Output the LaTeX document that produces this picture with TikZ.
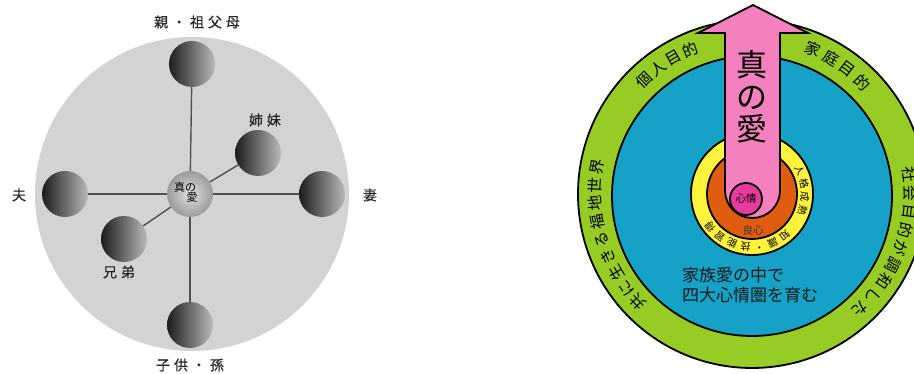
\documentclass[tikz,border=0pt]{standalone}
\usepackage{fontspec}
\setmainfont{Noto Sans CJK JP}
\newfontfamily\jpsp[LetterSpace=28,FakeBold=0.6]{Noto Sans CJK JP}
\usetikzlibrary{calc}
\definecolor{lgray}{RGB}{211,211,211}
\definecolor{linkc}{RGB}{80,80,80}
\definecolor{ballL}{RGB}{28,28,28}
\definecolor{ballR}{RGB}{185,185,185}
\definecolor{ggreen}{RGB}{150,204,36}
\definecolor{bblue}{RGB}{22,162,198}
\definecolor{yyellow}{RGB}{255,243,60}
\definecolor{oorange}{RGB}{224,92,16}
\definecolor{ppink}{RGB}{244,128,190}
\definecolor{mmag}{RGB}{232,58,156}
\tikzset{
  ballnode/.style={circle, minimum size=46, inner sep=0, left color=ballL, right color=ballR},
  ctrball/.style={circle, minimum size=46, inner sep=0, inner color=gray!25, outer color=gray!78},
  link/.style={draw=linkc, line width=1.4},
  lbl/.style={font=\jpsp\fontsize{14}{14}\selectfont, text=black!85, inner sep=1},
  ring/.style={draw=black, line width=1.8},
  gtxt/.style={font=\fontsize{15.5}{15.5}\selectfont, inner sep=0},
  ytxt/.style={font=\fontsize{10}{10}\selectfont, inner sep=0},
}
\begin{document}
\begin{tikzpicture}[x=1pt,y=1pt]
\useasboundingbox (0,0) rectangle (914,374);
\clip (0,0) rectangle (914,374);
% ---------------- left diagram ----------------
\fill[lgray] (192,180) circle (157);
\node[ballnode] (top) at (192,310) {};
\node[ballnode] (bot) at (190,49) {};
\node[ballnode] (hus) at (65,180) {};
\node[ballnode] (wif) at (322,180) {};
\node[ballnode] (sis) at (258,221) {};
\node[ballnode] (bro) at (124,135) {};
\node[ctrball] (ctr) at (190,180) {};
\draw[link] (top) -- (ctr);
\draw[link] (ctr) -- (bot);
\draw[link] (hus) -- (ctr);
\draw[link] (ctr) -- (wif);
\draw[link] (ctr) -- (sis);
\draw[link] (ctr) -- (bro);
\node[font=\fontsize{11}{11}\selectfont, inner sep=0] (ct1) at (185,186.5) {真の};
\node[font=\fontsize{11}{11}\selectfont, inner sep=0] (ct2) at (192,177) {愛};
\node[lbl] (l1) at (197,352) {親・祖父母};
\node[lbl] (l2) at (190,9) {子供・孫};
\node[lbl] (l3) at (19,179) {夫};
\node[lbl] (l4) at (370,179) {妻};
\node[lbl] (l5) at (265,254) {姉妹};
\node[lbl] (l6) at (119,102) {兄弟};
% ---------------- right diagram ----------------
\coordinate (R) at (752,180);
\filldraw[ring, fill=ggreen] (R) circle (174);
\filldraw[ring, fill=bblue] (752,178) circle (140);
\filldraw[ring, fill=yyellow] (R) circle (61);
\filldraw[ring, fill=oorange] (R) circle (45);
% arrow
\filldraw[ring, fill=ppink, line join=miter]
  (753,369) -- (808,341) -- (780,341) -- (780,183.5)
  arc[start angle=0, end angle=-180, radius=27.5]
  -- (725,341) -- (698,341) -- cycle;
\filldraw[ring, fill=mmag] (746,175) circle (16);
\node[font=\fontsize{10.5}{10.5}\selectfont, inner sep=0] (sj) at (746,175) {心情};
\node[font=\fontsize{10.5}{10.5}\selectfont, inner sep=0, text=black!80] (rs) at (753,143) {良心};
\node[font=\fontsize{31}{32}\selectfont, align=center, inner sep=0] (shin) at (752,277) {真\\の\\愛};
\node[font=\fontsize{17}{20.5}\selectfont, align=left, anchor=west, inner sep=0, text=black!90] (fam) at (682,89) {家族愛の中で\\四大心情圏を育む};
\begin{scope}[shift={(R)}]
  \foreach \c [count=\i from 0] in {個,人,目,的} {
    \pgfmathsetmacro\ang{133.4-6.8*\i}
    \node[gtxt, rotate=\ang-90] (ko\i) at (\ang:157) {\c};
  }
  \foreach \c [count=\i from 0] in {家,庭,目,的} {
    \pgfmathsetmacro\ang{67-7.2*\i}
    \node[gtxt, rotate=\ang-90] (ka\i) at (\ang:157) {\c};
  }
  \foreach \c [count=\i from 0] in {社,会,目,的,が,調,和,し,た} {
    \pgfmathsetmacro\ang{7-6.75*\i}
    \node[gtxt, rotate=\ang-90] (sh\i) at (\ang:158) {\c};
  }
  \foreach \c [count=\i from 0] in {共,に,生,き,る,福,地,世,界} {
    \pgfmathsetmacro\ang{223.6-6.7*\i}
    \node[gtxt, rotate=\ang-90] (to\i) at (\ang:157) {\c};
  }
  \foreach \c [count=\i from 0] in {人,格,成,熟} {
    \pgfmathsetmacro\ang{26-14.7*\i}
    \node[ytxt, rotate=\ang-90] (ji\i) at (\ang:53) {\c};
  }
  \foreach \c [count=\i from 0] in {知,識,・,技,能,習,得} {
    \pgfmathsetmacro\ang{-52-15*\i}
    \node[ytxt, rotate=\ang-90] (ch\i) at (\ang:53) {\c};
  }
\end{scope}
\end{tikzpicture}
\end{document}
